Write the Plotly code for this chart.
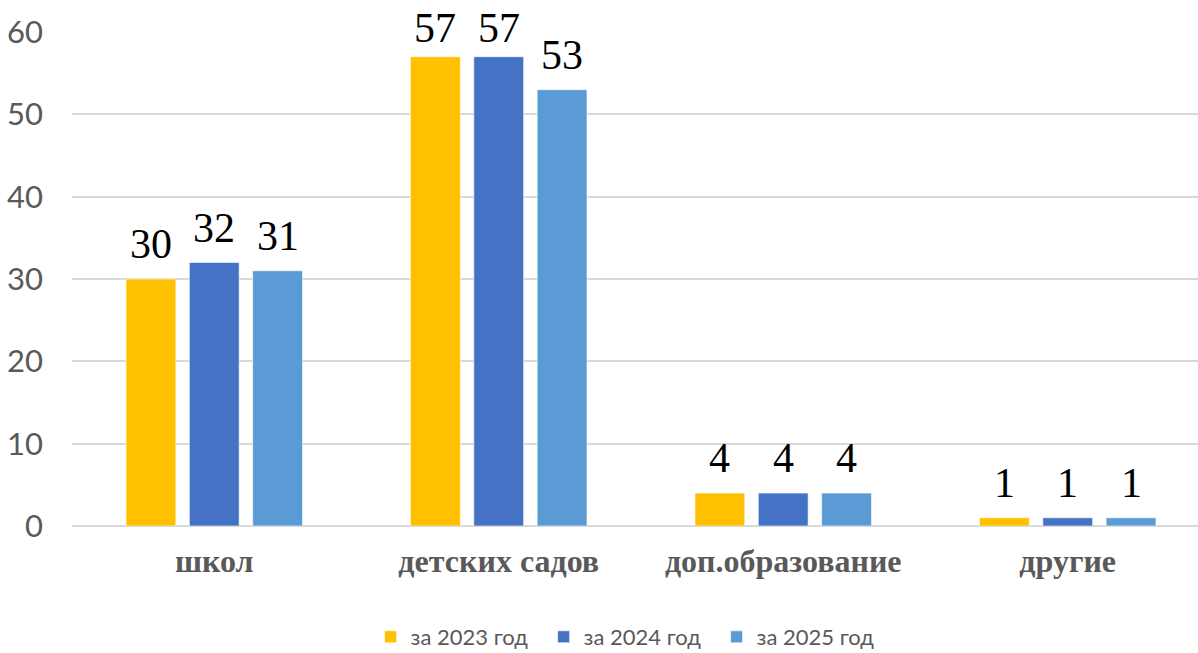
import plotly.graph_objects as go

categories = ["школ", "детских садов", "доп.образование", "другие"]
series_names = ["за 2023 год", "за 2024 год", "за 2025 год"]
values_2023 = [30, 57, 4, 1]
values_2024 = [32, 57, 4, 1]
values_2025 = [31, 53, 4, 1]
colors = ["#FFC000", "#4472C4", "#5B9BD5"]
y_ticks = [0, 10, 20, 30, 40, 50, 60]

BARGAP = 0.332
Y_MAX = 60
series = [values_2023, values_2024, values_2025]
slot = (1 - BARGAP) / len(series)

fig = go.Figure()
for name, vals, col in zip(series_names, series, colors):
    fig.add_trace(go.Bar(
        x=categories, y=vals, name=name,
        marker=dict(color=col, line=dict(color="rgba(255,255,255,0.6)", width=1)),
        cliponaxis=False,
    ))

# data labels above bars (labels close to the chart top are pulled down a little, as in the original)
for j, vals in enumerate(series):
    for i, v in enumerate(vals):
        shift = 4 if v > Y_MAX - 5 else 10
        fig.add_annotation(
            x=i + (j - 1) * slot, y=v, xref="x", yref="y",
            text=str(v), showarrow=False, yanchor="bottom", yshift=shift,
            font=dict(family="Liberation Serif", size=42, color="#000000"),
        )

fig.update_layout(
    width=1198, height=653,
    margin=dict(l=72, r=0, t=32, b=127, autoexpand=False),
    paper_bgcolor="white", plot_bgcolor="white",
    barmode="group", bargap=BARGAP, bargroupgap=0.213,
    legend=dict(orientation="h", x=0.2652, xanchor="left", y=-0.2247, yanchor="middle",
                font=dict(family="Lato", size=22, color="#595959"),
                entrywidth=128, entrywidthmode="pixels", itemclick=False),
    xaxis=dict(range=[-0.5, 3.458], showgrid=False, showline=False, ticks="", automargin=False,
               tickfont=dict(family="Liberation Serif", size=32, color="#595959", weight="bold"),
               ticklabelstandoff=13),
    yaxis=dict(range=[0, Y_MAX], tickvals=y_ticks, showgrid=True, gridcolor="#D9D9D9", gridwidth=2,
               zeroline=True, zerolinecolor="#D9D9D9", zerolinewidth=2, automargin=False,
               tickfont=dict(family="Lato", size=31, color="#595959"), ticklabelstandoff=28),
)

# remove the default 8px page margin so the figure fills the window exactly
fig.write_html("out.html", config={"displayModeBar": False},
               post_script="document.body.style.margin='0';document.body.style.overflow='hidden';")
